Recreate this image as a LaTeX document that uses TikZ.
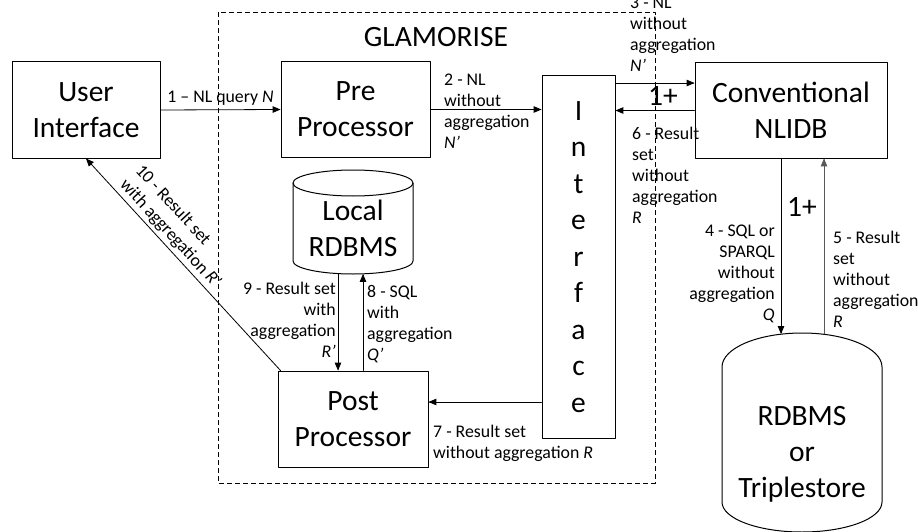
\documentclass[tikz,border=0pt]{standalone}
\usepackage{fontspec}
\setmainfont{Carlito}
\usetikzlibrary{arrows}
\newcommand{\boxfont}{\fontsize{29.5}{36}\selectfont}
\newcommand{\lblfont}{\fontsize{17.8}{21}\selectfont}
\tikzset{
  block/.style={draw,line width=1pt,font=\boxfont,align=center,inner sep=0pt},
  lbl/.style={font=\lblfont,inner sep=0pt},
  flow/.style={line width=0.8pt,->},
}
\begin{document}
\begin{tikzpicture}[line cap=round,line join=round,>=triangle 45,x=1pt,y=-1pt]
\useasboundingbox (0,0) rectangle (918,532);
\draw [line width=0.8pt,line cap=butt,dash pattern=on 5pt off 3pt] (218,12) rectangle (655,483);
\node (glam) [font=\boxfont] at (436,37) {GLAMORISE};
\node (ui) [block,minimum width=148pt,minimum height=96pt] at (86,110) {User\\Interface};
\node (pp) [block,minimum width=149pt,minimum height=95pt] at (355.5,109.5) {Pre\\Processor};
\node (intf) [block,font=\fontsize{29.5}{36.5}\selectfont,minimum width=73pt,minimum height=363pt] at (578.5,257) {I\\n\\t\\e\\r\\f\\a\\c\\e};
\node (nlidb) [block,minimum width=192pt,minimum height=95pt] at (791,110.5) {Conventional\\NLIDB};
\node (post) [block,minimum width=150pt,minimum height=96pt] at (353,419) {Post\\Processor};
% databases
\draw [line width=1pt] (293,183)-- (293,261) arc (180:360:60pt and 13pt) -- (413,183);
\draw [line width=1pt] (353,183) ellipse [x radius=60pt,y radius=13pt];
\node (ldb) [font=\boxfont,align=center] at (353,228) {Local\\RDBMS};
\draw [line width=1pt] (722,367) arc (180:0:80pt and 34pt) -- (882,502) arc (0:-180:80pt and 30pt) -- cycle;
\node (rdb) [font=\boxfont,align=center] at (802,454) {RDBMS\\or\\Triplestore};
\coordinate (a3) at (0,83);
\coordinate (a7) at (0,402);
\coordinate (db4) at (781,334);
\coordinate (db5) at (824,334);
\coordinate (lo9) at (338,274);
\coordinate (lo8) at (363,274);
% flows
\draw [flow] (ui.east)-- node [lbl,above=4pt] {1 – NL query \textit{N}} (pp.west);
\draw [flow] (pp.east)-- (pp.east -| intf.west);
\draw [flow] (intf.east |- a3)-- (nlidb.west |- a3);
\draw [flow] (nlidb.south -| db4)-- (db4);
\draw [flow,black!65] (db5)-- (nlidb.south -| db5);
\draw [flow] (nlidb.west)-- (nlidb.west -| intf.east);
\draw [flow] (intf.west |- a7)-- (post.east |- a7);
\draw [flow] (lo8 |- post.north)-- (lo8);
\draw [flow] (lo9)-- (lo9 |- post.north);
\draw [flow,<-] (ui.south)-- node [lbl,sloped,above=3pt,pos=0.39,align=left] {10 - Result set\\with aggregation \textit{R’}} ([xshift=3pt]post.north west);
\node (m1) [font=\boxfont] at (663,96) {1+};
\node (m2) [font=\boxfont] at (802,207) {1+};
\node (l2) [lbl,anchor=west,align=left] at (444,111) {2 - NL\\without\\aggregation\\\textit{N’}};
\node (l3) [lbl,anchor=west,align=left] at (630,34) {3 - NL\\without\\aggregation\\\textit{N’}};
\node (l4) [lbl,anchor=east,align=right] at (775,274) {4 - SQL or\\SPARQL\\without\\aggregation\\\textit{Q}};
\node (l5) [lbl,anchor=west,align=left] at (833,279) {5 - Result\\set\\without\\aggregation\\\textit{R}};
\node (l6) [lbl,anchor=west,align=left] at (632,175) {6 - Result\\set\\without\\aggregation\\\textit{R}};
\node (l7) [lbl,anchor=west,align=left] at (433,443) {7 - Result set\\without aggregation \textit{R}};
\node (l8) [lbl,anchor=west,align=left] at (367,324) {8 - SQL\\with\\aggregation\\\textit{Q’}};
\node (l9) [lbl,anchor=east,align=right] at (336,320) {9 - Result set\\with\\aggregation\\\textit{R’}};
\end{tikzpicture}
\end{document}
